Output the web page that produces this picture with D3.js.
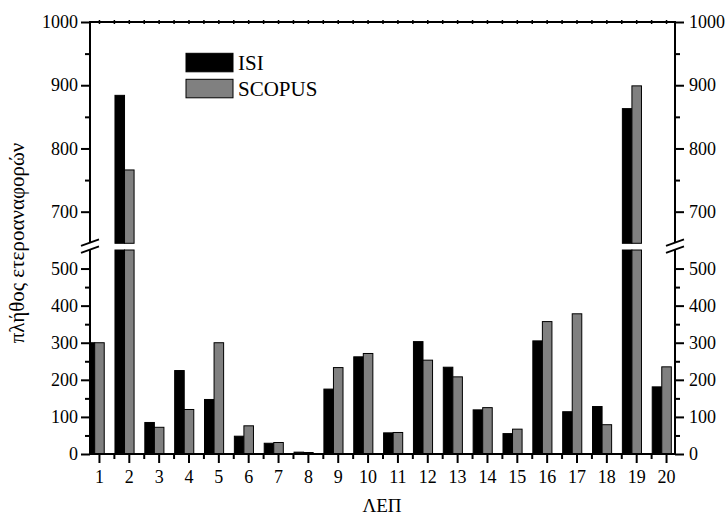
<!DOCTYPE html>
<html>
<head>
<meta charset="utf-8">
<script src="https://cdn.jsdelivr.net/npm/d3@7"></script>
<style>
  html, body { margin: 0; padding: 0; background: #fff; }
  svg { display: block; font-family: "Liberation Serif", "Times New Roman", serif; }
  svg text { font-family: "Liberation Serif", "Times New Roman", serif; }
</style>
</head>
<body>
<svg id="chart" width="726" height="515"></svg>
<script>
// Citation counts per ΛΕΠ, two databases
const categories = [1, 2, 3, 4, 5, 6, 7, 8, 9, 10, 11, 12, 13, 14, 15, 16, 17, 18, 19, 20];
const isiValues = [300, 884, 85, 225, 147, 48, 29, 5, 175, 262, 57, 303, 234, 119, 55, 305, 114, 128, 863, 181];
const scopusValues = [300, 766, 72, 120, 300, 76, 31, 4, 233, 271, 58, 253, 208, 125, 67, 357, 378, 79, 899, 235];
const seriesNames = ["ISI", "SCOPUS"];

// Broken y axis: two segments
const lowerDomain = [0, 550];
const upperDomain = [650, 1000];
const lowerTicks = [0, 100, 200, 300, 400, 500];
const lowerMinorTicks = [50, 150, 250, 350, 450];
const upperTicks = [700, 800, 900, 1000];
const upperMinorTicks = [750, 850, 950];

const xTitle = "ΛΕΠ";
const yTitle = "πλήθος ετεροαναφορών";

// Layout
const plotLeft = 90, plotRight = 675, plotTop = 22, plotBottom = 454;
const lowerTop = 250, upperBottom = 243.3;
const breakUpper = 242.6, breakLower = 249.6;
const serif = '"Liberation Serif", "Times New Roman", serif';

const svg = d3.select("#chart");

const x = d3.scaleLinear().domain([0.7, 20.3]).range([plotLeft, plotRight]);
const yLow = d3.scaleLinear().domain(lowerDomain).range([plotBottom, lowerTop]);
const yHigh = d3.scaleLinear().domain(upperDomain).range([upperBottom, plotTop]);

const step = x(2) - x(1);
const barW = step * 0.32;
const fmt = d3.format("d");

svg.append("defs").append("clipPath").attr("id", "plotClip")
  .append("rect")
  .attr("x", plotLeft).attr("y", 0)
  .attr("width", plotRight - plotLeft).attr("height", plotBottom);

const barsG = svg.append("g").attr("clip-path", "url(#plotClip)");

const series = [
  { name: seriesNames[0], values: isiValues, fill: "#000000", offset: -barW * 1.5 + 0.5 },
  { name: seriesNames[1], values: scopusValues, fill: "#808080", offset: -barW * 0.5 + 0.5 }
];

series.forEach(s => {
  const rows = categories.map((c, i) => ({ c, v: s.values[i] }));
  // lower segment part
  barsG.selectAll(null).data(rows).enter().append("rect")
    .attr("x", d => x(d.c) + s.offset)
    .attr("width", barW)
    .attr("y", d => yLow(Math.min(d.v, lowerDomain[1])))
    .attr("height", d => yLow(0) - yLow(Math.min(d.v, lowerDomain[1])))
    .attr("fill", s.fill)
    .attr("stroke", "#000").attr("stroke-width", 1);
  // upper segment part
  barsG.selectAll(null).data(rows.filter(d => d.v > upperDomain[0])).enter().append("rect")
    .attr("x", d => x(d.c) + s.offset)
    .attr("width", barW)
    .attr("y", d => yHigh(d.v))
    .attr("height", d => yHigh(upperDomain[0]) - yHigh(d.v))
    .attr("fill", s.fill)
    .attr("stroke", "#000").attr("stroke-width", 1);
});

// Axes
function styleAxis(g) {
  g.attr("font-family", serif).attr("font-size", 18);
  g.select(".domain").remove();
  g.selectAll(".tick line").attr("stroke", "#000").attr("stroke-width", 2);
  g.selectAll(".tick text").attr("fill", "#000");
}

// left
svg.append("g").attr("transform", `translate(${plotLeft},0)`)
  .call(d3.axisLeft(yLow).tickValues(lowerTicks).tickSize(9).tickPadding(3).tickFormat(fmt)).call(styleAxis);
svg.append("g").attr("transform", `translate(${plotLeft},0)`)
  .call(d3.axisLeft(yLow).tickValues(lowerMinorTicks).tickSize(5).tickFormat("")).call(styleAxis);
svg.append("g").attr("transform", `translate(${plotLeft},0)`)
  .call(d3.axisLeft(yHigh).tickValues(upperTicks).tickSize(9).tickPadding(3).tickFormat(fmt)).call(styleAxis);
svg.append("g").attr("transform", `translate(${plotLeft},0)`)
  .call(d3.axisLeft(yHigh).tickValues(upperMinorTicks).tickSize(5).tickFormat("")).call(styleAxis);

// right
svg.append("g").attr("transform", `translate(${plotRight},0)`)
  .call(d3.axisRight(yLow).tickValues(lowerTicks).tickSize(9).tickPadding(5).tickFormat(fmt)).call(styleAxis);
svg.append("g").attr("transform", `translate(${plotRight},0)`)
  .call(d3.axisRight(yLow).tickValues(lowerMinorTicks).tickSize(5).tickFormat("")).call(styleAxis);
svg.append("g").attr("transform", `translate(${plotRight},0)`)
  .call(d3.axisRight(yHigh).tickValues(upperTicks).tickSize(9).tickPadding(5).tickFormat(fmt)).call(styleAxis);
svg.append("g").attr("transform", `translate(${plotRight},0)`)
  .call(d3.axisRight(yHigh).tickValues(upperMinorTicks).tickSize(5).tickFormat("")).call(styleAxis);

// bottom
const halfTicks = categories.slice(0, -1).map(c => c + 0.5);
svg.append("g").attr("transform", `translate(0,${plotBottom})`)
  .call(d3.axisBottom(x).tickValues(categories).tickSize(9).tickPadding(7).tickFormat(fmt)).call(styleAxis);
svg.append("g").attr("transform", `translate(0,${plotBottom})`)
  .call(d3.axisBottom(x).tickValues(halfTicks).tickSize(5).tickFormat("")).call(styleAxis);

// top: small ticks straddling the frame
const topTicks = categories.concat(halfTicks);
svg.append("g").attr("transform", `translate(0,${plotTop + 2})`)
  .call(d3.axisTop(x).tickValues(topTicks).tickSize(4).tickFormat("")).call(styleAxis)
  .selectAll(".tick line").attr("stroke-width", 1.5);

// Frame lines with breaks
const frame = svg.append("g").attr("stroke", "#000").attr("stroke-width", 2).attr("fill", "none");
frame.append("line").attr("x1", plotLeft - 1).attr("x2", plotRight + 1).attr("y1", plotTop).attr("y2", plotTop);
frame.append("line").attr("x1", plotLeft - 1).attr("x2", plotRight + 1).attr("y1", plotBottom).attr("y2", plotBottom);
[plotLeft, plotRight].forEach(ax => {
  frame.append("line").attr("x1", ax).attr("x2", ax).attr("y1", plotTop).attr("y2", breakUpper);
  frame.append("line").attr("x1", ax).attr("x2", ax).attr("y1", breakLower).attr("y2", plotBottom);
  [breakUpper, breakLower].forEach(by => {
    frame.append("line")
      .attr("x1", ax - 9).attr("y1", by + 3.3)
      .attr("x2", ax + 9).attr("y2", by - 3.3)
      .attr("stroke-width", 1.8);
  });
});

// Axis titles
svg.append("text")
  .attr("x", 382).attr("y", 512)
  .attr("text-anchor", "middle").attr("font-size", 19).attr("fill", "#000")
  .attr("font-family", serif)
  .text(xTitle);

svg.append("text")
  .attr("transform", `translate(24,${243}) rotate(-90)`)
  .attr("text-anchor", "middle").attr("font-size", 21).attr("fill", "#000")
  .attr("font-family", serif)
  .text(yTitle);

// Legend
const legend = svg.append("g").attr("font-family", serif);
series.forEach((s, i) => {
  const ly = [53.3, 79.3][i];
  legend.append("rect")
    .attr("x", 186).attr("y", ly)
    .attr("width", 47).attr("height", 18.5)
    .attr("fill", s.fill).attr("stroke", "#000").attr("stroke-width", 1);
  legend.append("text")
    .attr("x", 238).attr("y", ly + 17)
    .attr("font-size", 21).attr("fill", "#000")
    .text(s.name);
});
</script>
</body>
</html>
